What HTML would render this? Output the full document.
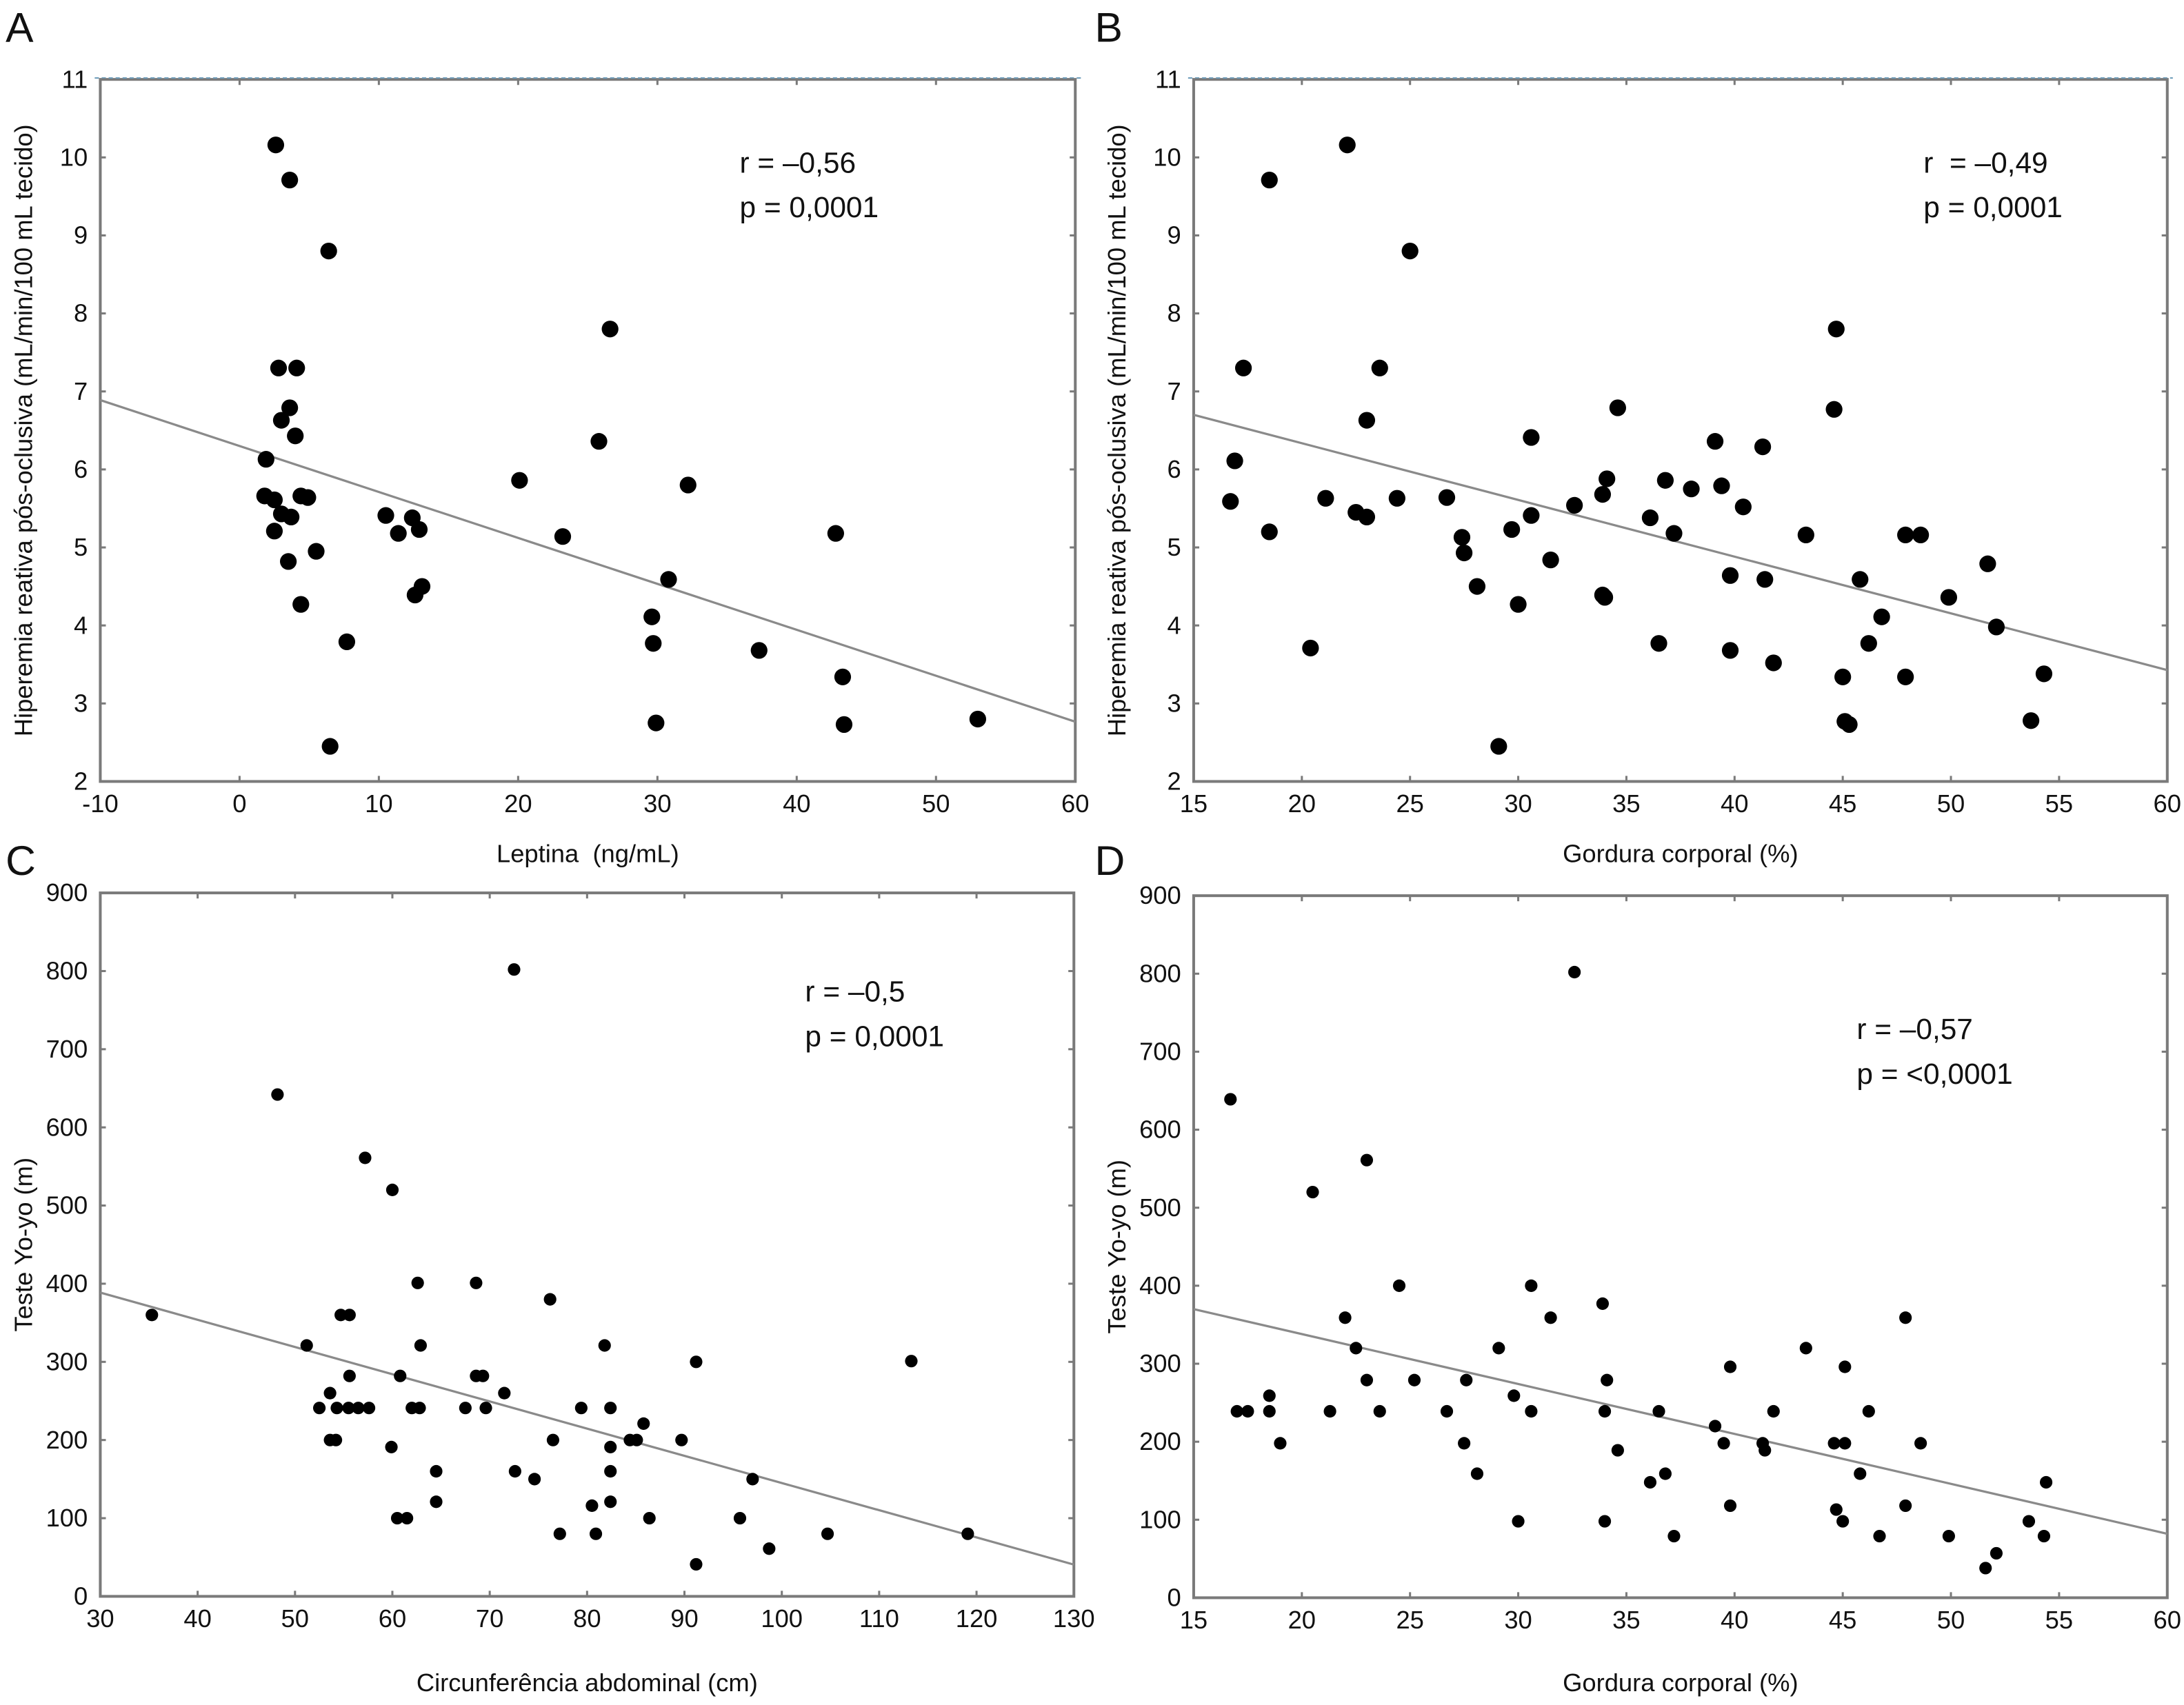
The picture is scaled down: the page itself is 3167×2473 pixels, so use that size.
<!DOCTYPE html>
<html><head><meta charset="utf-8">
<style>
html,body{margin:0;padding:0;background:#fff;}
svg{display:block;font-family:"Liberation Sans",Arial,sans-serif;}
</style></head>
<body>
<svg id="fig" width="3167" height="2473" viewBox="0 0 1568 1224" preserveAspectRatio="none" xmlns="http://www.w3.org/2000/svg">
<rect width="1568" height="1224" fill="#fff"/>
</svg>
<script>
// ---- Panel A: Leptina vs Hiperemia ----
const aX = [2.6,3.6,6.4,2.8,4.1,3.6,3.0,4.0,1.9,1.8,2.5,4.4,4.9,3.0,3.7,2.5,3.5,5.5,4.4,7.7,6.5,10.5,11.4,12.4,12.9,12.6,13.1,20.1,23.2,25.8,26.6,32.2,30.8,29.6,29.7,29.9,37.3,42.8,43.3,43.4,53.0];
const aY = [10.16,9.71,8.8,7.3,7.3,6.79,6.63,6.43,6.13,5.66,5.61,5.66,5.64,5.43,5.39,5.21,4.82,4.95,4.27,3.79,2.45,5.41,5.18,5.38,5.23,4.39,4.5,5.86,5.14,6.36,7.8,5.8,4.59,4.11,3.77,2.75,3.68,5.18,3.34,2.73,2.80];
const aFit = [6.30,-0.0589];
const aXTicks = [-10,0,10,20,30,40,50,60];
const aYTicks = [2,3,4,5,6,7,8,9,10,11];
// ---- Panel B: Gordura vs Hiperemia ----
const bX = [16.7,16.9,17.3,18.5,18.5,20.4,21.1,22.1,22.5,23.0,23.0,23.6,25.0,24.4,26.7,27.4,27.5,28.1,29.1,29.7,30.0,30.6,30.6,31.5,32.6,33.9,34.1,33.9,34.0,34.6,36.1,36.5,36.8,37.2,38.0,39.1,39.4,39.8,39.8,40.4,41.3,41.4,41.8,43.3,44.7,44.6,45.0,45.1,45.3,45.8,46.2,46.8,47.9,47.9,48.6,49.9,51.7,52.1,53.7,54.3];
const bY = [5.59,6.11,7.3,9.71,5.2,3.71,5.63,10.16,5.45,5.39,6.63,7.3,8.8,5.63,5.64,5.13,4.93,4.5,2.45,5.23,4.27,6.41,5.41,4.84,5.54,5.68,5.88,4.39,4.36,6.79,5.38,3.77,5.86,5.18,5.75,6.36,5.79,4.64,3.68,5.52,6.29,4.59,3.52,5.16,7.8,6.77,3.34,2.77,2.73,4.59,3.77,4.11,5.16,3.34,5.16,4.36,4.79,3.98,2.78,3.38];
const bFit = [7.79,-0.0727];
const bXTicks = [15,20,25,30,35,40,45,50,55,60];
const bYTicks = [2,3,4,5,6,7,8,9,10,11];
// ---- Panel C: Circunferência vs Yo-yo ----
const cX = [35.3,48.2,51.2,52.5,53.6,53.6,54.2,54.3,54.7,55.6,55.6,55.5,56.5,57.2,57.6,59.9,60.0,60.5,61.5,60.8,62.0,62.6,62.8,62.9,64.5,64.5,67.5,68.6,68.6,69.3,69.6,71.5,72.5,72.6,74.6,76.2,76.5,77.2,79.4,80.5,80.9,81.8,82.4,82.4,82.4,82.4,84.4,85.1,85.8,86.4,89.7,91.2,91.2,95.7,97.0,98.7,104.7,113.3,119.1];
const cY = [360,642,321,241,260,200,200,241,360,360,282,241,241,561,241,191,520,100,100,282,241,401,241,321,160,121,241,401,282,282,241,260,802,160,150,380,200,80,241,116,80,321,241,160,121,191,200,200,221,100,200,300,41,100,150,61,80,301,80];
const cFit = [493,-3.48];
const cXTicks = [30,40,50,60,70,80,90,100,110,120,130];
const cYTicks = [0,100,200,300,400,500,600,700,800,900];
// ---- Panel D: Gordura vs Yo-yo ----
const dX = [16.7,17.0,17.5,18.5,18.5,19.0,20.5,21.3,22.0,22.5,23.0,23.0,23.6,24.5,25.2,26.7,27.6,27.5,28.1,29.1,29.8,30.0,30.6,30.6,31.5,32.6,33.9,34.1,34.0,34.0,34.6,36.1,36.5,36.8,37.2,39.1,39.5,39.8,39.8,41.3,41.4,41.8,43.3,44.6,44.7,45.0,45.1,45.1,45.8,46.2,46.7,47.9,47.9,48.6,49.9,51.6,52.1,53.6,54.3,54.4];
const dY = [639,239,239,259,239,198,520,239,359,320,561,279,239,400,279,239,279,198,159,320,259,98,400,239,359,802,377,279,239,98,189,148,239,159,79,220,198,296,118,198,189,239,320,198,113,98,296,198,159,239,79,359,118,198,79,38,57,98,79,148];
const dFit = [466,-6.4];
const dXTicks = [15,20,25,30,35,40,45,50,55,60];
const dYTicks = [0,100,200,300,400,500,600,700,800,900];

const NS = "http://www.w3.org/2000/svg";
const svg = document.getElementById('fig');
function mk(tag, attrs, parent){
  const e = document.createElementNS(NS, tag);
  for (const k in attrs) e.setAttribute(k, attrs[k]);
  (parent||svg).appendChild(e);
  return e;
}
function panel(o){
  const g = mk('g', {});
  
  
  const sx = v => o.x0 + (v - o.xmin) / (o.xmax - o.xmin) * (o.x1 - o.x0);
  const sy = v => o.y1 - (v - o.ymin) / (o.ymax - o.ymin) * (o.y1 - o.y0);
  const fr = mk('rect', {x:o.x0, y:o.y0, width:o.x1-o.x0, height:o.y1-o.y0, fill:'none', stroke:'#7a7a7a', 'stroke-width':2}, g);
  
  
  if (o.dash){
    mk('line', {x1:o.x0-4, y1:o.y0-1, x2:o.x1+4, y2:o.y0-1, stroke:'#6a9ab8', 'stroke-width':1, 'stroke-dasharray':'3 2'}, g);
  }
  o.xt.forEach((t,i) => {
    const x = sx(t);
    mk('line', {x1:x, y1:o.y1, x2:x, y2:o.y1-4, stroke:'#7a7a7a', 'stroke-width':1.5}, g);
    mk('line', {x1:x, y1:o.y0, x2:x, y2:o.y0+4, stroke:'#7a7a7a', 'stroke-width':1.5}, g);
    const tx = mk('text', {x:x, y:o.y1+22, 'font-size':18, 'text-anchor':'middle', fill:'#111'}, g);
    tx.textContent = t;
    
    
  });
  o.yt.forEach((t,i) => {
    const y = sy(t);
    mk('line', {x1:o.x0, y1:y, x2:o.x0+4, y2:y, stroke:'#7a7a7a', 'stroke-width':1.5}, g);
    mk('line', {x1:o.x1, y1:y, x2:o.x1-4, y2:y, stroke:'#7a7a7a', 'stroke-width':1.5}, g);
    const tx = mk('text', {x:o.x0-9, y:y+6, 'font-size':18, 'text-anchor':'end', fill:'#111'}, g);
    tx.textContent = t;
    
    
  });
  const fl = mk('line', {x1:sx(o.xmin), y1:sy(o.fit[0]+o.fit[1]*o.xmin), x2:sx(o.xmax), y2:sy(o.fit[0]+o.fit[1]*o.xmax), stroke:'#8a8a8a', 'stroke-width':1.6}, g);
  
  
  o.xs.forEach((v,i) => {
    const c = mk('circle', {cx:sx(v), cy:sy(o.ys[i]), r:o.r, fill:'#000'}, g);
    
    
  });
  const xt = mk('text', {x:(o.x0+o.x1)/2, y:o.xty, 'font-size':18, 'text-anchor':'middle', fill:'#111', style:'white-space:pre'}, g);
  xt.textContent = o.xtitle;
  
  
  const yt = mk('text', {x:0, y:0, 'font-size':18, 'text-anchor':'middle', fill:'#111', transform:'translate('+o.ytx+','+((o.y0+o.y1)/2)+') rotate(-90)'}, g);
  yt.textContent = o.ytitle;
  
  
  const lt = mk('text', {x:o.lx, y:o.ly, 'font-size':30, fill:'#111'}, g);
  lt.textContent = o.id;
  
  
  const r1 = mk('text', {x:o.ax, y:o.ay, 'font-size':21, fill:'#111', style:'white-space:pre'}, g);
  r1.textContent = o.rtxt;
  
  
  const p1 = mk('text', {x:o.ax, y:o.ay+32, 'font-size':21, fill:'#111'}, g);
  p1.textContent = o.ptxt;
  
  
}
const hy = 'Hiperemia reativa pós-oclusiva (mL/min/100 mL tecido)';
panel({id:'A', x0:72, x1:772, y0:57, y1:561, xmin:-10, xmax:60, ymin:2, ymax:11, xs:aX, ys:aY, fit:aFit, xt:aXTicks, yt:aYTicks, r:6, dash:true,
  xtitle:'Leptina  (ng/mL)', xty:619, ytitle:hy, ytx:23, lx:4, ly:30, ax:531, ay:124, rtxt:'r = –0,56', ptxt:'p = 0,0001'});
panel({id:'B', x0:857, x1:1556, y0:57, y1:561, xmin:15, xmax:60, ymin:2, ymax:11, xs:bX, ys:bY, fit:bFit, xt:bXTicks, yt:bYTicks, r:6, dash:true,
  xtitle:'Gordura corporal (%)', xty:619, ytitle:hy, ytx:808, lx:786, ly:30, ax:1381, ay:124, rtxt:'r  = –0,49', ptxt:'p = 0,0001'});
panel({id:'C', x0:72, x1:771, y0:641, y1:1146, xmin:30, xmax:130, ymin:0, ymax:900, xs:cX, ys:cY, fit:cFit, xt:cXTicks, yt:cYTicks, r:4.5, dash:false,
  xtitle:'Circunferência abdominal (cm)', xty:1214, ytitle:'Teste Yo-yo (m)', ytx:23, lx:4, ly:628, ax:578, ay:719, rtxt:'r = –0,5', ptxt:'p = 0,0001'});
panel({id:'D', x0:857, x1:1556, y0:643, y1:1147, xmin:15, xmax:60, ymin:0, ymax:900, xs:dX, ys:dY, fit:dFit, xt:dXTicks, yt:dYTicks, r:4.5, dash:false,
  xtitle:'Gordura corporal (%)', xty:1214, ytitle:'Teste Yo-yo (m)', ytx:808, lx:786, ly:628, ax:1333, ay:746, rtxt:'r = –0,57', ptxt:'p = <0,0001'});
</script>
</body></html>
